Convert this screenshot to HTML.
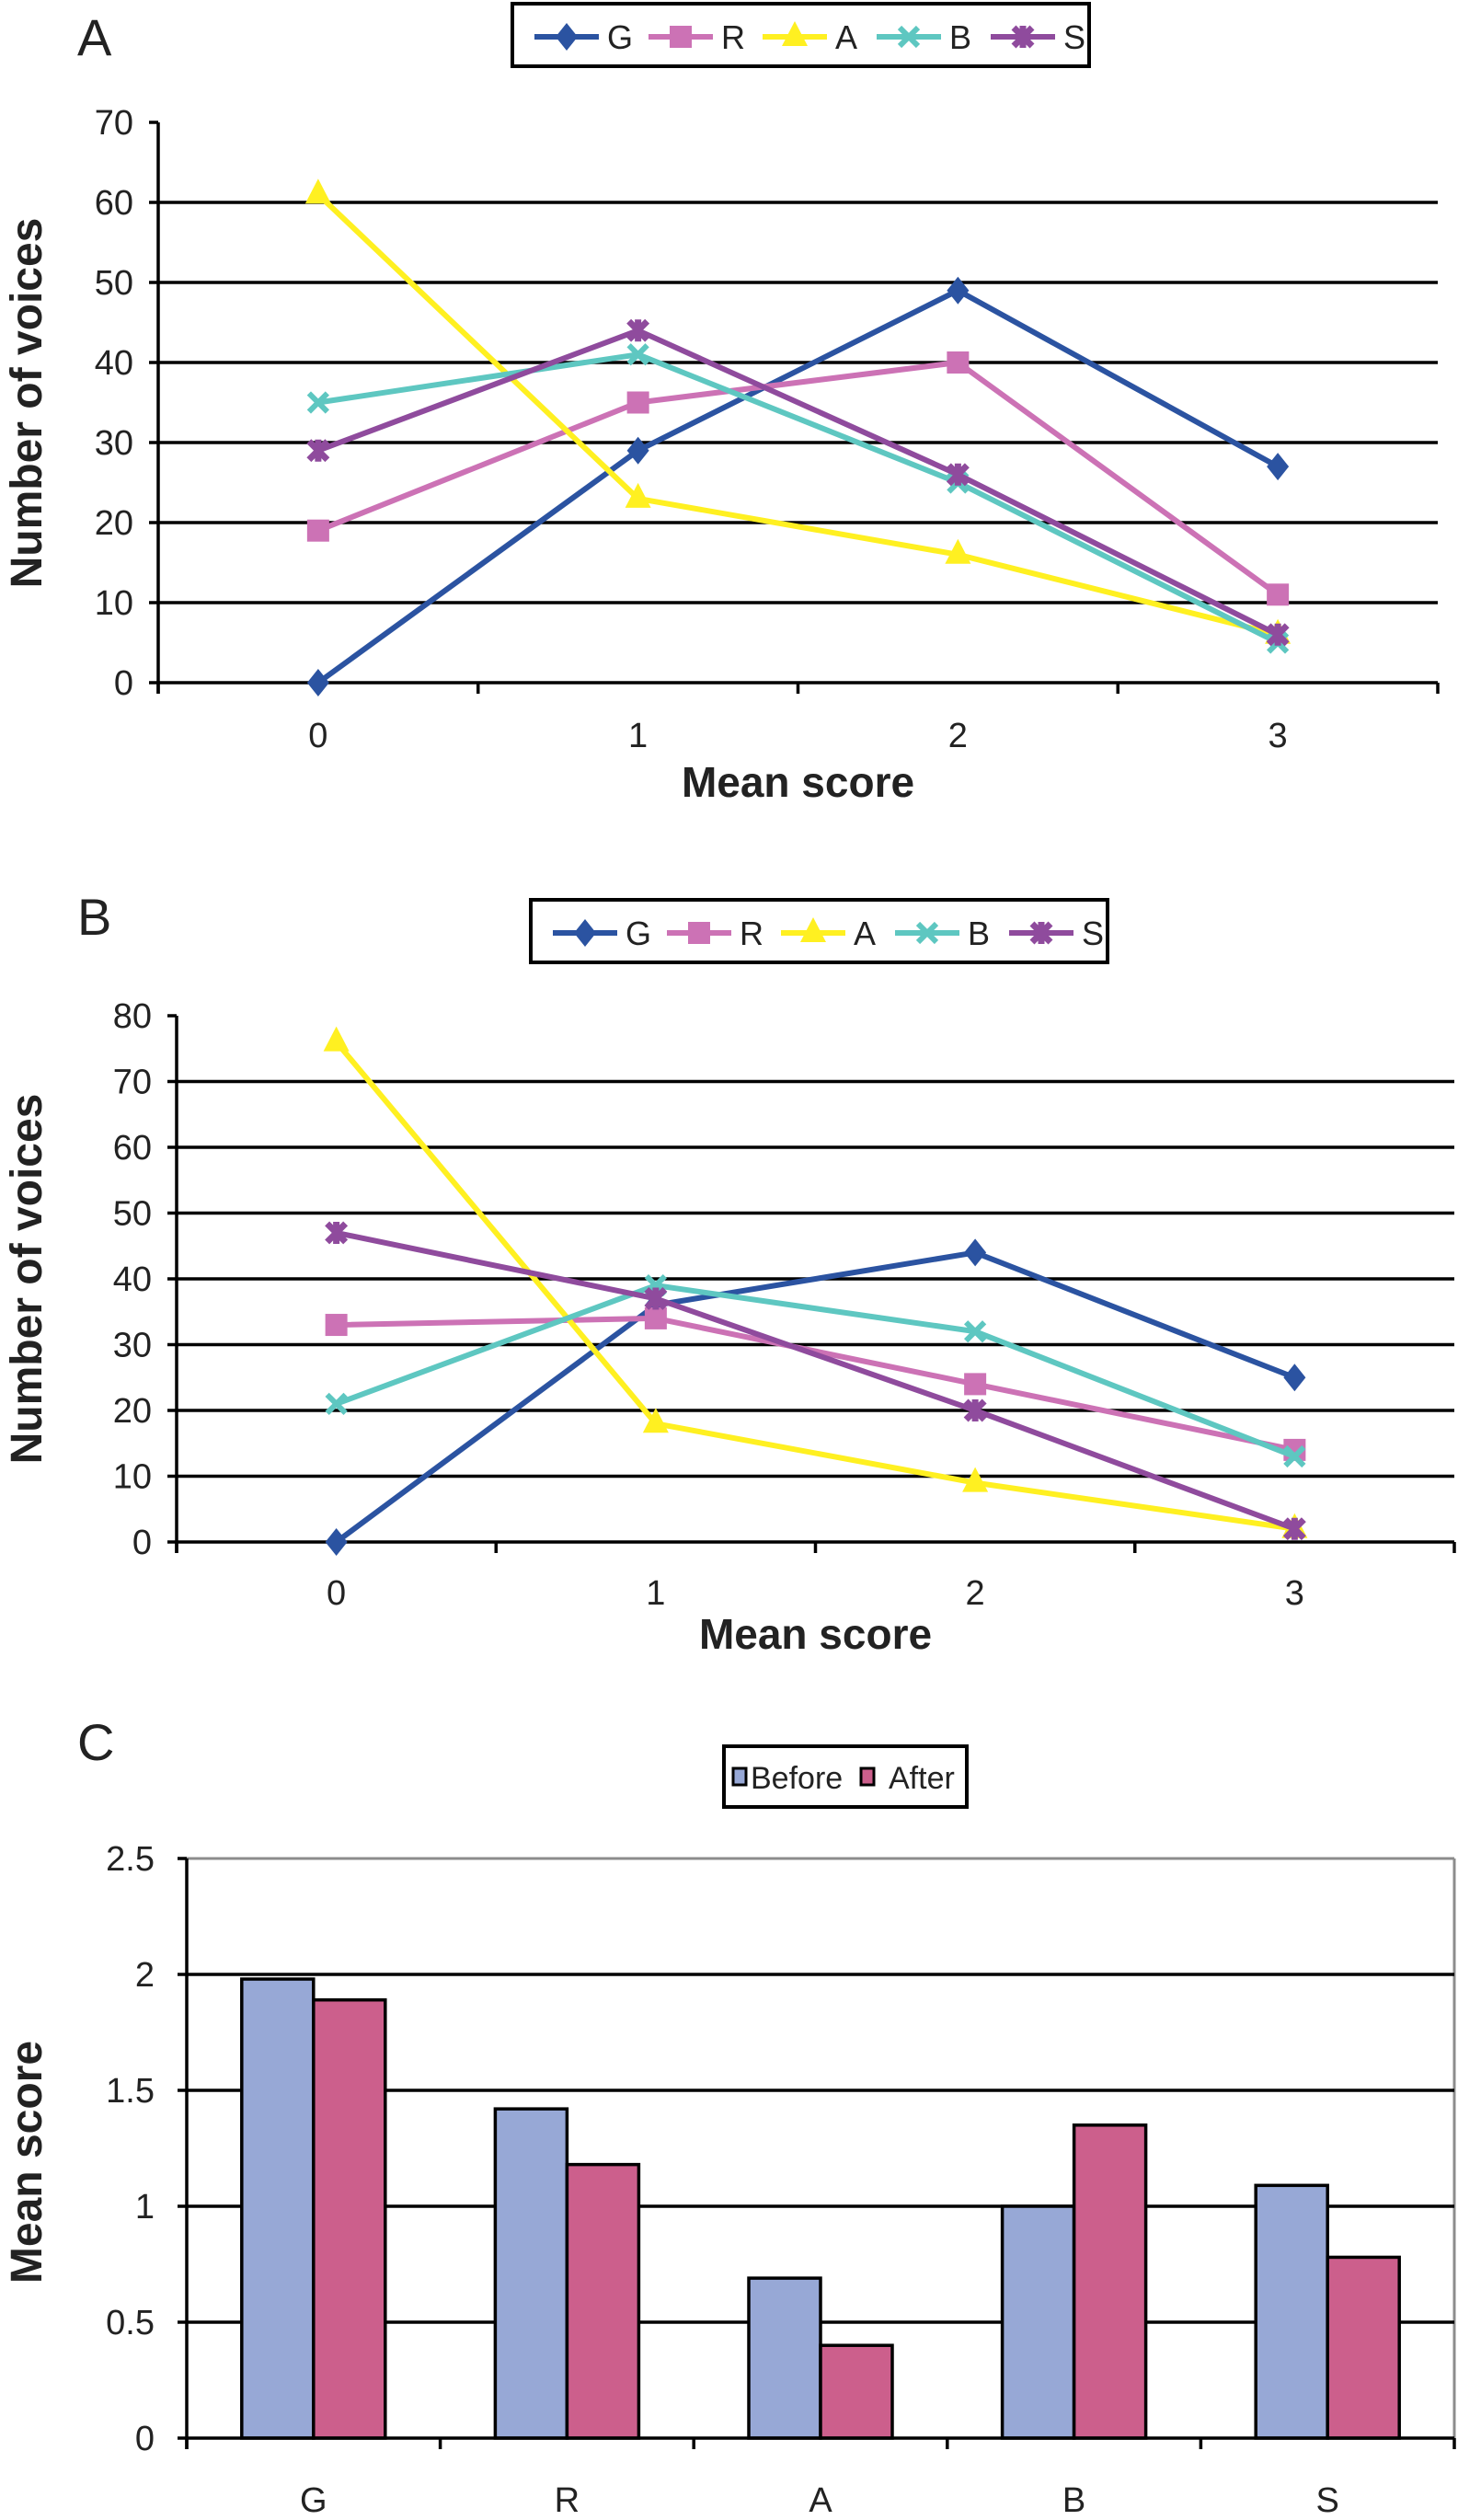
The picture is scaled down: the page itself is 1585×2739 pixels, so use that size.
<!DOCTYPE html>
<html><head><meta charset="utf-8"><style>
html,body{margin:0;padding:0;background:#fff;}
svg{display:block;font-family:"Liberation Sans",Arial,sans-serif;}
</style></head><body>
<svg id="fig" width="1585" height="2739" viewBox="0 0 1585 2739" xmlns="http://www.w3.org/2000/svg"></svg>
<script>
const lineCats = ['0','1','2','3'];
const seriesNames = ['G','R','A','B','S'];
const seriesColors = ['#2b53a1','#cc72b5','#fff021','#5ec7c1','#8f4b9d'];
const aG = [0,29,49,27];
const aR = [19,35,40,11];
const aA = [61,23,16,6];
const aB = [35,41,25,5];
const aS = [29,44,26,6];
const aTicks = [0,10,20,30,40,50,60,70];
const bG = [0,36,44,25];
const bR = [33,34,24,14];
const bA = [76,18,9,2];
const bB = [21,39,32,13];
const bS = [47,37,20,2];
const bTicks = [0,10,20,30,40,50,60,70,80];
const barCats = ['G','R','A','B','S'];
const barBefore = [1.98,1.42,0.69,1.00,1.09];
const barAfter = [1.89,1.18,0.40,1.35,0.78];
const cTicks = ['0','0.5','1','1.5','2','2.5'];

const NS='http://www.w3.org/2000/svg';
const svg=document.getElementById('fig');
function mk(tag,attrs,parent,text){const e=document.createElementNS(NS,tag);for(const k in attrs)e.setAttribute(k,attrs[k]);if(text!==undefined)e.textContent=text;(parent||svg).appendChild(e);return e;}

function marker(g,type,x,y,color){
  let e;
  if(type==='G'){e=mk('polygon',{points:`${x},${y-15} ${x+12},${y} ${x},${y+15} ${x-12},${y}`,fill:color},g);}
  else if(type==='R'){e=mk('rect',{x:x-12,y:y-12,width:24,height:24,fill:color},g);}
  else if(type==='A'){e=mk('polygon',{points:`${x},${y-17} ${x+14},${y+10} ${x-14},${y+10}`,fill:color},g);}
  else if(type==='B'){e=mk('path',{d:`M${x-10},${y-10}L${x+10},${y+10}M${x+10},${y-10}L${x-10},${y+10}`,stroke:color,'stroke-width':6,fill:'none'},g);}
  else {e=mk('path',{d:`M${x-10},${y-10}L${x+10},${y+10}M${x+10},${y-10}L${x-10},${y+10}M${x},${y-12}L${x},${y+12}`,stroke:color,'stroke-width':7,fill:'none'},g);}
  
  
}

function lineChart(o){
  const g=mk('g',{});
  
  
  const yS=v=>o.y0-(v/o.vmax)*(o.y0-o.ytop);
  const step=(o.xr-o.xl)/lineCats.length;
  const xS=i=>o.xl+step*(i+0.5);
  const pl=mk('text',{x:o.letterX,y:o.letterY,'font-size':56,fill:'#222'},g,o.letter);
  
  o.ticks.forEach(t=>{
    const y=yS(t);
    if(t>0&&t<o.vmax){const l=mk('line',{x1:o.xl,x2:o.xr,y1:y,y2:y,stroke:'#000','stroke-width':3.5},g);}
    mk('line',{x1:o.xl-10,x2:o.xl,y1:y,y2:y,stroke:'#000','stroke-width':3.5},g);
    const tl=mk('text',{x:o.xl-27,y:y+13,'font-size':38,'text-anchor':'end',fill:'#222'},g,String(t));
    
  });
  const ya=mk('line',{x1:o.xl,x2:o.xl,y1:o.ytop,y2:o.y0+12,stroke:'#000','stroke-width':3.5},g);
  
  const xa=mk('line',{x1:o.xl,x2:o.xr,y1:o.y0,y2:o.y0,stroke:'#000','stroke-width':3.5},g);
  
  for(let i=0;i<=lineCats.length;i++){const x=o.xl+step*i;mk('line',{x1:x,x2:x,y1:o.y0,y2:o.y0+12,stroke:'#000','stroke-width':3.5},g);}
  lineCats.forEach((c,i)=>{const t=mk('text',{x:xS(i),y:o.xLabY,'font-size':38,'text-anchor':'middle',fill:'#222'},g,c);});
  const xt=mk('text',{x:(o.xl+o.xr)/2,y:o.xTitleY,'font-size':46,'font-weight':'bold','text-anchor':'middle',fill:'#222'},g,'Mean score');
  
  const yt=mk('text',{x:0,y:0,'font-size':48,'font-weight':'bold','text-anchor':'middle',fill:'#222',transform:`translate(45,${o.yTitleY}) rotate(-90)`},g,'Number of voices');
  
  o.series.forEach((vals,si)=>{
    const sg=mk('g',{},g);
    
    
    const pts=vals.map((v,i)=>`${xS(i)},${yS(v)}`).join(' ');
    mk('polyline',{points:pts,fill:'none',stroke:seriesColors[si],'stroke-width':6,'stroke-linejoin':'round'},sg);
    vals.forEach((v,i)=>marker(sg,seriesNames[si],xS(i),yS(v),seriesColors[si]));
  });
  const lg=mk('g',{},g);
  
  mk('rect',{x:o.legX,y:o.legY,width:627,height:68,fill:'#fff',stroke:'#000','stroke-width':4},lg);
  const cy=o.legY+36;
  seriesNames.forEach((n,i)=>{
    const ex=mk('g',{},lg);
    
    const x0=o.legX+24+i*124;
    mk('line',{x1:x0,x2:x0+70,y1:cy,y2:cy,stroke:seriesColors[i],'stroke-width':6},ex);
    marker(ex,n,x0+35,cy,seriesColors[i]);
    mk('text',{x:x0+79,y:cy+13,'font-size':36,fill:'#222'},ex,n);
  });
}

lineChart({name:'chart-a',letter:'A',letterX:84,letterY:60,xl:172,xr:1563,y0:742,ytop:133,vmax:70,ticks:aTicks,
  series:[aG,aR,aA,aB,aS],xLabY:812,xTitleY:866,yTitleY:438,legX:557,legY:4});
lineChart({name:'chart-b',letter:'B',letterX:84,letterY:1016,xl:192,xr:1581,y0:1676,ytop:1104,vmax:80,ticks:bTicks,
  series:[bG,bR,bA,bB,bS],xLabY:1744,xTitleY:1792,yTitleY:1390,legX:577,legY:978});

(function(){
  const g=mk('g',{});
  
  const xl=203,xr=1581,y0=2650,ytop=2020,vmax=2.5;
  const yS=v=>y0-(v/vmax)*(y0-ytop);
  const step=(xr-xl)/barCats.length;
  const pl=mk('text',{x:84,y:1913,'font-size':56,fill:'#222'},g,'C');
  
  mk('line',{x1:xl,x2:xr,y1:ytop,y2:ytop,stroke:'#8c8c8c','stroke-width':3},g);
  mk('line',{x1:xr,x2:xr,y1:ytop,y2:y0,stroke:'#8c8c8c','stroke-width':3},g);
  cTicks.forEach(t=>{
    const v=parseFloat(t),y=yS(v);
    if(v>0&&v<vmax){const l=mk('line',{x1:xl,x2:xr,y1:y,y2:y,stroke:'#000','stroke-width':3.5},g);}
    mk('line',{x1:xl-10,x2:xl,y1:y,y2:y,stroke:'#000','stroke-width':3.5},g);
    const tl=mk('text',{x:168,y:y+13,'font-size':38,'text-anchor':'end',fill:'#222'},g,t);
    
  });
  const bw=78;
  barCats.forEach((c,i)=>{
    const cx=xl+step*(i+0.5);
    const b1=mk('rect',{x:cx-bw,y:yS(barBefore[i]),width:bw,height:y0-yS(barBefore[i]),fill:'#97a8d6',stroke:'#000','stroke-width':3.5},g);
    
    const b2=mk('rect',{x:cx,y:yS(barAfter[i]),width:bw,height:y0-yS(barAfter[i]),fill:'#cc5f8c',stroke:'#000','stroke-width':3.5},g);
    
    const t=mk('text',{x:cx,y:2730,'font-size':38,'text-anchor':'middle',fill:'#222'},g,c);
    
  });
  const ya=mk('line',{x1:xl,x2:xl,y1:ytop,y2:y0+12,stroke:'#000','stroke-width':3.5},g);
  
  const xa=mk('line',{x1:xl,x2:xr,y1:y0,y2:y0,stroke:'#000','stroke-width':3.5},g);
  
  for(let i=0;i<=barCats.length;i++){const x=xl+step*i;mk('line',{x1:x,x2:x,y1:y0,y2:y0+12,stroke:'#000','stroke-width':3.5},g);}
  const yt=mk('text',{x:0,y:0,'font-size':48,'font-weight':'bold','text-anchor':'middle',fill:'#222',transform:'translate(45,2350) rotate(-90)'},g,'Mean score');
  
  const lg=mk('g',{},g);
  
  mk('rect',{x:787,y:1898,width:264,height:66,fill:'#fff',stroke:'#000','stroke-width':4},lg);
  mk('rect',{x:797,y:1922,width:14,height:18,fill:'#97a8d6',stroke:'#000','stroke-width':3},lg);
  mk('text',{x:816,y:1944,'font-size':34,fill:'#222'},lg,'Before');
  mk('rect',{x:936,y:1922,width:14,height:18,fill:'#cc5f8c',stroke:'#000','stroke-width':3},lg);
  mk('text',{x:966,y:1944,'font-size':34,fill:'#222'},lg,'After');
})();
</script>
</body></html>
